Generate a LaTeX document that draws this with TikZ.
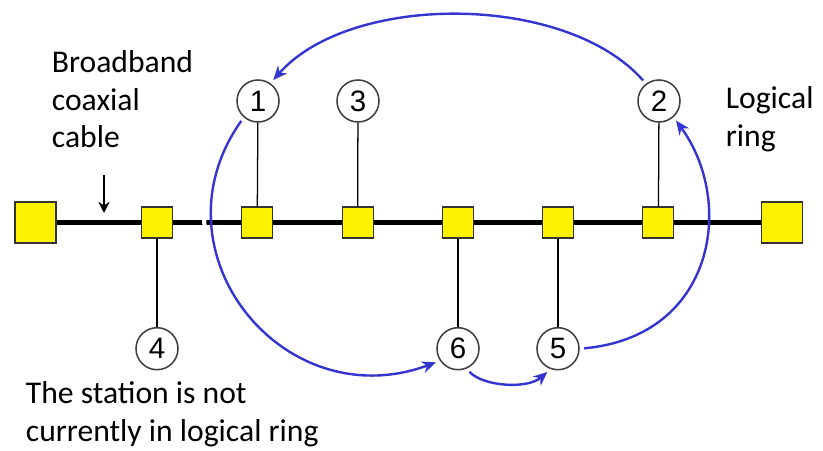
\documentclass[tikz,border=0pt]{standalone}
\usepackage{fontspec}
\setmainfont{Carlito}
\newfontfamily\numfont{Liberation Sans}
\usepackage{tikz}
\usetikzlibrary{arrows.meta}
\usepackage{xcolor}
\definecolor{busyellow}{HTML}{FFF200}
\definecolor{ringblue}{HTML}{3434D0}
\definecolor{edgegray}{HTML}{333333}

\begin{document}
\begin{tikzpicture}[
  station/.style={draw=edgegray, line width=0.8pt, fill=busyellow, minimum size=0.775cm, inner sep=0pt},
  terminator/.style={station, minimum size=1.025cm},
  addr/.style={circle, draw=black!75, line width=1.1pt, fill=white, minimum size=1.05cm, inner sep=0pt,
    font=\numfont\fontsize{21}{21}\selectfont},
  stub/.style={black, line width=0.9pt},
  ring/.style={ringblue, line width=1.7pt, -{Stealth[length=10pt, width=8.5pt]}, shorten <=3pt, shorten >=3pt},
  pointer/.style={black, line width=1pt, -{Stealth[length=8pt, width=8pt]}},
  note/.style={font=\fontsize{22.5}{27}\selectfont, align=left, inner sep=0pt, anchor=base west}
]
  \useasboundingbox (0,0) rectangle (20.575,11.25);
  \fill[white] (0,0) rectangle (20.575,11.25);

  % bus with terminators and taps
  \node[terminator] (lt) at (0.8875,5.6875) {};
  \node[terminator] (rt) at (19.55,5.6875) {};
  \node[station] (s4) at (3.925,5.6875) {};
  \node[station] (s1) at (6.43,5.6875) {};
  \node[station] (s3) at (8.94,5.6875) {};
  \node[station] (s6) at (11.45,5.6875) {};
  \node[station] (s5) at (13.95,5.6875) {};
  \node[station] (s2) at (16.46,5.6875) {};
  \draw[line width=3pt] (lt) -- (s4) -- (s1) -- (s3) -- (s6) -- (s5) -- (s2) -- (rt);

  % station addresses
  \node[addr] (c1) at (6.45,8.725) {1};
  \node[addr] (c3) at (8.95,8.725) {3};
  \node[addr] (c2) at (16.475,8.725) {2};
  \node[addr] (c4) at (3.925,2.5325) {4};
  \node[addr] (c6) at (11.45,2.5325) {6};
  \node[addr] (c5) at (13.95,2.5325) {5};
  \draw[stub] (s1) -- (c1);
  \draw[stub] (s3) -- (c3);
  \draw[stub] (s2) -- (c2);
  \draw[stub] (s4) -- (c4);
  \draw[stub] (s6) -- (c6);
  \draw[stub] (s5) -- (c5);

  % token passing order 2 -> 1 -> 6 -> 5 -> 2
  \draw[ring] (c2.127) .. controls +(-2.0,2.27) and +(2.0,2.27) .. (c1.55);
  \draw[ring, preaction={draw=white, line width=3pt, arrows=-, shorten >=20pt, shorten <=20pt}]
    (c1.229) .. controls +(-2.375,-3.35) and +(-3.925,-1.45) .. (c6.214);
  \draw[ring] (c6.293) .. controls +(0.425,-0.45) and +(-0.575,-0.5) .. (c5.250);
  \draw[ring] (c5.0) .. controls +(3.375,0.3) and +(1.55,-2.125) .. (c2.312);

  % labels
  \coordinate (cabletail) at (2.6,6.875);
  \coordinate (cabletip) at (2.6,5.925);
  \draw[pointer] (cabletail) -- (cabletip);
  \node[note] (cable) at (1.29,7.55) {Broadband\\coaxial\\cable};
  \node[note] (ringnote) at (18.14,7.5875) {Logical\\ring};
  \node[note] (idle) at (0.64,0.2075) {The station is not\\currently in logical ring};
\end{tikzpicture}
\end{document}
